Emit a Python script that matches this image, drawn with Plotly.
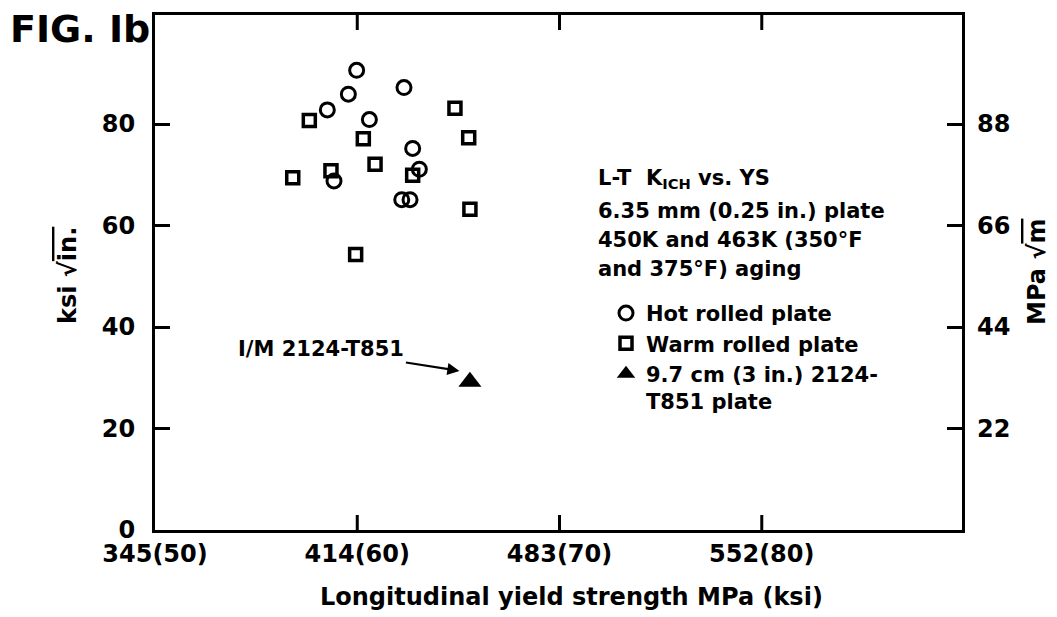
import plotly.graph_objects as go

# ---- data (ksi, ksi*sqrt(in)) ----
hot_ys = [59.97, 59.56, 58.52, 62.31, 60.60, 62.74, 63.07, 58.85, 62.20, 62.61]
hot_k = [90.6, 85.9, 82.8, 87.2, 80.9, 75.2, 71.1, 68.8, 65.1, 65.1]
warm_ys = [57.63, 60.30, 60.88, 56.81, 58.70, 62.74, 64.83, 65.51, 65.57, 59.92]
warm_k = [80.7, 77.1, 72.1, 69.4, 70.8, 69.9, 83.1, 77.3, 63.2, 54.3]
im_ys = [65.57]
im_k = [29.2]

x_tickvals = [50, 60, 70, 80]
x_ticktext = ["345(50)", "414(60)", "483(70)", "552(80)"]
y_tickvals = [0, 20, 40, 60, 80]
y_ticktext = ["0", "20", "40", "60", "80"]
mpa_labels = [22, 44, 66, 88]          # right-hand MPa*sqrt(m) scale

X_RANGE = [50, 89.9]
Y_RANGE = [0, 101.5]
KSI_TO_MPA = 1.1

FONT = "DejaVu Sans"
BLK = "black"
GAP = "\u2002"

fig = go.Figure()
fig.add_trace(go.Scatter(
    x=hot_ys, y=hot_k, mode="markers", name="Hot rolled plate",
    marker=dict(symbol="circle-open", size=14, color=BLK, line=dict(width=3, color=BLK)),
))
fig.add_trace(go.Scatter(
    x=warm_ys, y=warm_k, mode="markers", name="Warm rolled plate",
    marker=dict(symbol="square-open", size=12, color=BLK, line=dict(width=3.5, color=BLK)),
))
fig.add_trace(go.Scatter(
    x=im_ys, y=im_k, mode="markers", name="9.7 cm (3 in.) 2124-<br>T851 plate",
    marker=dict(symbol="triangle-up", size=20, color=BLK, line=dict(width=0)),
))

tickfont = dict(family=FONT, size=24, color=BLK, weight="bold")

fig.update_layout(
    width=1057, height=617,
    margin=dict(l=155, r=95, t=13, b=87),
    paper_bgcolor="white", plot_bgcolor="white",
    showlegend=True,
    legend=dict(
        x=(606 - 155) / 807, y=(530 - 292) / 517, xanchor="left", yanchor="top",
        bgcolor="rgba(0,0,0,0)", font=dict(family=FONT, size=21, color=BLK, weight="bold"),
        tracegroupgap=0, valign="top", itemwidth=30,
    ),
    xaxis=dict(
        range=X_RANGE, tickmode="array", tickvals=x_tickvals, ticktext=x_ticktext,
        ticks="", showline=True, linewidth=3, linecolor=BLK, mirror=True,
        showgrid=False, zeroline=False, tickfont=tickfont,
    ),
    yaxis=dict(
        range=Y_RANGE, tickmode="array", tickvals=y_tickvals,
        ticktext=[t + GAP for t in y_ticktext],
        ticks="inside", ticklen=15, tickwidth=3, tickcolor=BLK,
        showline=True, linewidth=3, linecolor=BLK, mirror="ticks",
        showgrid=False, zeroline=False, tickfont=tickfont,
    ),
)

# inward x ticks (bottom and top) at the tick values, through the x scale
for tv in x_tickvals[1:]:
    for anchor, length in ((0, 15), (1, -15)):
        fig.add_shape(
            type="line", xref="x", yref="paper", x0=tv, x1=tv,
            ysizemode="pixel", yanchor=anchor, y0=0, y1=length,
            line=dict(color=BLK, width=3),
        )

# right-hand scale labels, placed through the y axis scale
for v in mpa_labels:
    fig.add_annotation(
        text=str(v), xref="paper", yref="y", x=1, y=v / KSI_TO_MPA,
        xanchor="left", yanchor="middle", xshift=13, showarrow=False, font=tickfont,
    )

ann_font = dict(family=FONT, size=21, color=BLK, weight="bold")

# header text block
lines = [
    ("L-T\u00a0\u00a0K<sub>ICH</sub> vs. YS", 178),
    ("6.35 mm (0.25 in.) plate", 210),
    ("450K and 463K (350°F", 239),
    ("and 375°F) aging", 268),
]
for txt, py in lines:
    fig.add_annotation(
        text=txt, xref="paper", yref="paper",
        x=(596 - 155) / 807, y=(530 - py) / 517,
        xanchor="left", yanchor="middle", showarrow=False, font=ann_font,
    )

# I/M label with arrow
fig.add_annotation(
    text="I/M 2124-T851", xref="x", yref="y", x=65.15, y=31.3,
    ax=-140, ay=-22, showarrow=True, arrowhead=2, arrowsize=1.1, arrowwidth=2.2,
    arrowcolor=BLK, font=ann_font, standoff=2,
)

# axis titles
fig.add_annotation(
    text="Longitudinal yield strength MPa (ksi)", xref="paper", yref="paper",
    x=(571 - 155) / 807, y=(530 - 597) / 517, showarrow=False,
    font=dict(family=FONT, size=24, color=BLK, weight="bold"),
    xanchor="center", yanchor="middle",
)
fig.add_annotation(
    text="ksi \u221a<span style='text-decoration:overline'>in.</span>",
    xref="paper", yref="paper", x=(68 - 155) / 807, y=(530 - 275) / 517,
    textangle=-90, showarrow=False, xanchor="center", yanchor="middle",
    font=dict(family=FONT, size=24, color=BLK, weight="bold"),
)
fig.add_annotation(
    text="MPa \u221a<span style='text-decoration:overline'>m</span>",
    xref="paper", yref="paper", x=(1037 - 155) / 807, y=(530 - 271) / 517,
    textangle=-90, showarrow=False, xanchor="center", yanchor="middle",
    font=dict(family=FONT, size=24, color=BLK, weight="bold"),
)
# figure label
fig.add_annotation(
    text="FIG. Ib", xref="paper", yref="paper", x=(8 - 155) / 807, y=(530 - 27) / 517,
    xanchor="left", yanchor="middle", showarrow=False,
    font=dict(family=FONT, size=38, color=BLK, weight="bold"),
)

fig.write_html("out.html")
